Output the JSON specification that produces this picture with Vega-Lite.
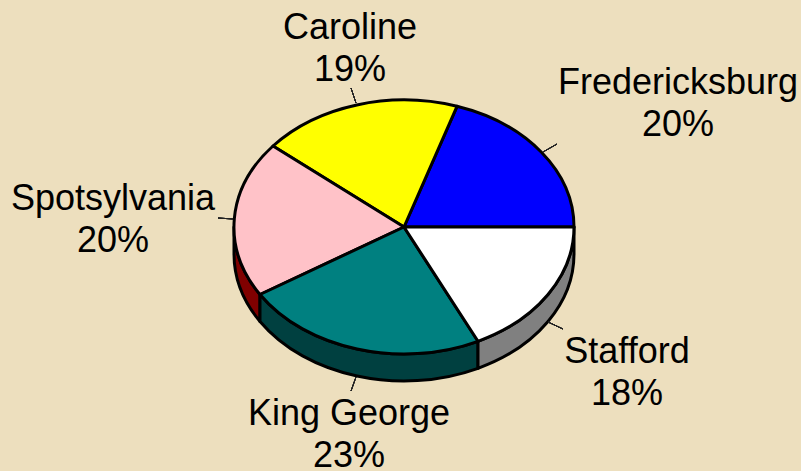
{
"$schema":"https://vega.github.io/schema/vega-lite/v6.json",
"width":801,"height":471,"padding":0,"autosize":"none","background":"#EDDFBE",
"config":{"view":{"stroke":null},"axis":{"domain":false,"grid":false,"ticks":false,"labels":false,"title":null}},
"data":{"values":[
{"county":"Fredericksburg","share":20},
{"county":"Caroline","share":19},
{"county":"Spotsylvania","share":20},
{"county":"King George","share":23},
{"county":"Stafford","share":18}
]},
"transform":[{"calculate":"datum.county + '\\n' + datum.share + '%'","as":"label"}],
"resolve":{"scale":{"fill":"independent","shape":"independent"}},
"layer":[
{"transform":[{"filter":"datum.county==='Stafford'||datum.county==='King George'||datum.county==='Spotsylvania'"}],
 "mark":{"type":"point","filled":true,"size":4,"opacity":1,"stroke":"#000000","strokeWidth":3,"strokeJoin":"round"},
 "encoding":{
 "x":{"datum":404,"type":"quantitative","scale":{"domain":[0,801],"nice":false,"zero":false},"axis":null},
 "y":{"datum":227,"type":"quantitative","scale":{"domain":[0,471],"nice":false,"zero":false,"reverse":true},"axis":null},
 "fill":{"field":"county","type":"nominal","legend":null,"scale":{"domain":["Stafford","King George","Spotsylvania"],"range":["#808080","#004040","#800000"]}},
 "shape":{"field":"county","type":"nominal","legend":null,"scale":{"domain":["Stafford","King George","Spotsylvania"],"range":[
 "M170,0L170,27A170,127 0 0 1 74,141.3L74,114.3A170,127 0 0 0 170,0Z",
 "M74,114.3L74,141.3A170,127 0 0 1 -144,94.5L-144,67.5A170,127 0 0 0 74,114.3Z",
 "M-144,67.5L-144,94.5A170,127 0 0 1 -170,27L-170,0A170,127 0 0 0 -144,67.5Z"]}}
 }},
{"mark":{"type":"point","filled":true,"size":4,"opacity":1,"stroke":"#000000","strokeWidth":3,"strokeJoin":"round"},
 "encoding":{
 "x":{"datum":404,"type":"quantitative","scale":{"domain":[0,801],"nice":false,"zero":false},"axis":null},
 "y":{"datum":227,"type":"quantitative","scale":{"domain":[0,471],"nice":false,"zero":false,"reverse":true},"axis":null},
 "fill":{"field":"county","type":"nominal","legend":null,"scale":{"domain":["Fredericksburg","Caroline","Spotsylvania","King George","Stafford"],"range":["#0000FF","#FFFF00","#FFC2C8","#008080","#FFFFFF"]}},
 "shape":{"field":"county","type":"nominal","legend":null,"scale":{"domain":["Fredericksburg","Caroline","Spotsylvania","King George","Stafford"],"range":[
 "M0,0L170,0A170,127 0 0 0 53,-120.7Z",
 "M0,0L53,-120.7A170,127 0 0 0 -131,-81Z",
 "M0,0L-131,-81A170,127 0 0 0 -144,67.5Z",
 "M0,0L-144,67.5A170,127 0 0 0 74,114.3Z",
 "M0,0L74,114.3A170,127 0 0 0 170,0Z"]}}
 }},
{"mark":{"type":"rule","color":"#222222","strokeWidth":1},"encoding":{"x":{"datum":351,"type":"quantitative"},"x2":{"datum":356},"y":{"datum":88,"type":"quantitative"},"y2":{"datum":103}}},
{"mark":{"type":"rule","color":"#222222","strokeWidth":1},"encoding":{"x":{"datum":557,"type":"quantitative"},"x2":{"datum":543},"y":{"datum":144,"type":"quantitative"},"y2":{"datum":152}}},
{"mark":{"type":"rule","color":"#222222","strokeWidth":1},"encoding":{"x":{"datum":218,"type":"quantitative"},"x2":{"datum":233},"y":{"datum":218,"type":"quantitative"},"y2":{"datum":219}}},
{"mark":{"type":"rule","color":"#222222","strokeWidth":1},"encoding":{"x":{"datum":548,"type":"quantitative"},"x2":{"datum":563},"y":{"datum":322,"type":"quantitative"},"y2":{"datum":329}}},
{"mark":{"type":"rule","color":"#222222","strokeWidth":1},"encoding":{"x":{"datum":356,"type":"quantitative"},"x2":{"datum":351},"y":{"datum":377,"type":"quantitative"},"y2":{"datum":391}}},
{"transform":[{"filter":"datum.county==='Caroline'"}],"mark":{"type":"text","font":"Liberation Sans","fontSize":36,"lineBreak":"\n","lineHeight":42,"align":"center","baseline":"alphabetic","color":"#000000"},"encoding":{"x":{"datum":350,"type":"quantitative"},"y":{"datum":39,"type":"quantitative"},"text":{"field":"label"}}},
{"transform":[{"filter":"datum.county==='Fredericksburg'"}],"mark":{"type":"text","font":"Liberation Sans","fontSize":36,"lineBreak":"\n","lineHeight":42,"align":"center","baseline":"alphabetic","color":"#000000"},"encoding":{"x":{"datum":678,"type":"quantitative"},"y":{"datum":94,"type":"quantitative"},"text":{"field":"label"}}},
{"transform":[{"filter":"datum.county==='Spotsylvania'"}],"mark":{"type":"text","font":"Liberation Sans","fontSize":36,"lineBreak":"\n","lineHeight":42,"align":"center","baseline":"alphabetic","color":"#000000"},"encoding":{"x":{"datum":113,"type":"quantitative"},"y":{"datum":210,"type":"quantitative"},"text":{"field":"label"}}},
{"transform":[{"filter":"datum.county==='Stafford'"}],"mark":{"type":"text","font":"Liberation Sans","fontSize":36,"lineBreak":"\n","lineHeight":42,"align":"center","baseline":"alphabetic","color":"#000000"},"encoding":{"x":{"datum":627,"type":"quantitative"},"y":{"datum":363,"type":"quantitative"},"text":{"field":"label"}}},
{"transform":[{"filter":"datum.county==='King George'"}],"mark":{"type":"text","font":"Liberation Sans","fontSize":36,"lineBreak":"\n","lineHeight":42,"align":"center","baseline":"alphabetic","color":"#000000"},"encoding":{"x":{"datum":349,"type":"quantitative"},"y":{"datum":425,"type":"quantitative"},"text":{"field":"label"}}}
]
}
